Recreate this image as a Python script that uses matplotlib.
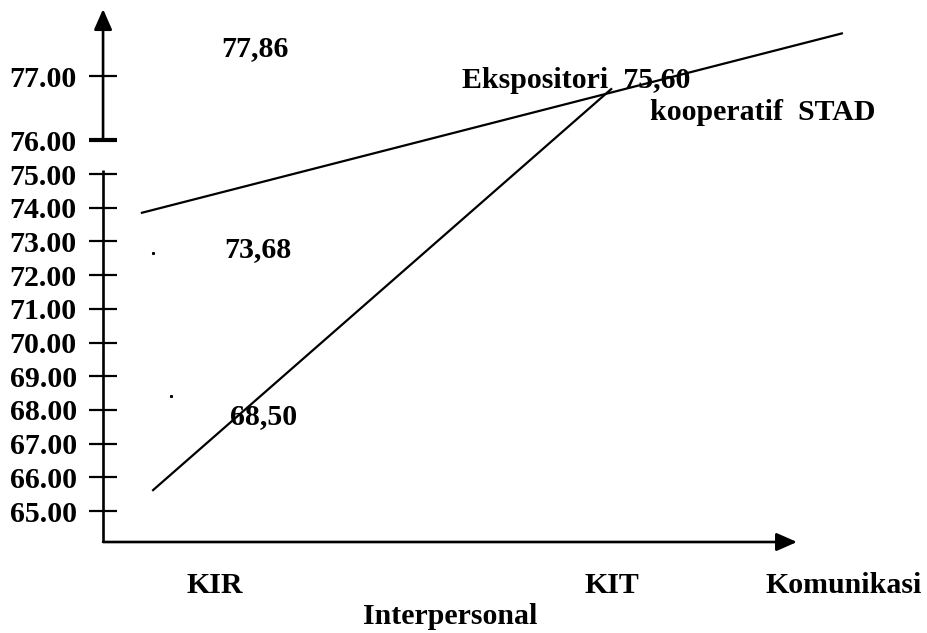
import numpy as np
import matplotlib
matplotlib.use('Agg')
import matplotlib.pyplot as plt

# nilai
kategori = ['KIR', 'KIT']
ticks_y = [65, 66, 67, 68, 69, 70, 71, 72, 73, 74, 75, 76, 77]
tick_labels = ['%.2f' % t for t in ticks_y]

# garis 1 (landai) dan garis 2 (curam), x dalam satuan kategori KIR=0, KIT=1
garis1_x = [-0.184, 1.579]
garis1_y = [73.85, 77.67]
garis2_x = [-0.156, 0.998]
garis2_y = [65.62, 76.80]

label_nilai = ['77,86', '73,68', '68,50', 'Ekspositori  75,60', 'kooperatif  STAD']
label_x = [0.100, 0.107, 0.123, 0.911, 1.380]
label_y = [77.44, 72.77, 67.79, 76.94, 76.43]

titik_x = [-0.157, -0.111]
titik_y = [72.66, 68.41]

# sumbu y patah di 76: 65..76 rapat, 76..77 renggang
H = 633.0
def forward(v):
    v = np.asarray(v, dtype=float)
    py = np.where(v <= 76, 511 - 33.7 * (v - 65), 140.3 - 64.0 * (v - 76))
    return H - py

def inverse(u):
    py = H - np.asarray(u, dtype=float)
    return np.where(py >= 140.3, 65 + (511 - py) / 33.7, 76 + (140.3 - py) / 64.0)

plt.rcParams['font.family'] = ['Liberation Serif', 'DejaVu Serif']
plt.rcParams['font.weight'] = 'bold'
FS = 21.5

fig = plt.figure(figsize=(9.28, 6.33), dpi=100)
ax = fig.add_axes([0, 0, 1, 1])
ax.set_yscale('function', functions=(forward, inverse))
ax.set_xlim(-0.5416, 1.796)
ax.set_ylim(float(inverse(0)), float(inverse(H)))

x0 = -0.282       # posisi sumbu y
y0 = 64.08        # posisi sumbu x
for s in ax.spines.values():
    s.set_visible(False)
ax.spines['left'].set_position(('data', x0))

ax.set_yticks(ticks_y)
ax.set_yticklabels(tick_labels, fontsize=FS, fontweight='bold')
ax.tick_params(axis='y', direction='inout', length=20, width=1.6, pad=9, color='black')
ax.set_xticks([])
ax.yaxis.get_major_ticks()[11].tick1line.set_markeredgewidth(3)

# sumbu
ax.plot([x0, x0], [y0, 75.12], color='black', lw=1.9, solid_capstyle='butt')
ax.annotate('', xy=(x0, 78.05), xytext=(x0, 76.0),
            arrowprops=dict(arrowstyle='-|>,head_length=1.25,head_width=0.55',
                            color='black', lw=1.9, shrinkA=0, shrinkB=0, mutation_scale=10))
ax.annotate('', xy=(1.466, y0), xytext=(x0, y0),
            arrowprops=dict(arrowstyle='-|>,head_length=1.25,head_width=0.55',
                            color='black', lw=1.9, shrinkA=0, shrinkB=0, mutation_scale=10))

ax.plot(garis1_x, garis1_y, color='black', lw=1.6)
ax.plot(garis2_x, garis2_y, color='black', lw=1.6)
ax.plot(titik_x, titik_y, ls='none', marker='s', ms=1.2, color='black')

for t, x, y in zip(label_nilai, label_x, label_y):
    ax.text(x, y, t, fontsize=FS, fontweight='bold', ha='center', va='center')

# label kategori
ax.text(0, 62.80, kategori[0], fontsize=FS, fontweight='bold', ha='center', va='center')
ax.text(1, 62.80, kategori[1], fontsize=FS, fontweight='bold', ha='center', va='center')
ax.text(1.781, 62.80, 'Komunikasi', fontsize=FS, fontweight='bold', ha='right', va='center')
ax.text(0.592, 61.855, 'Interpersonal', fontsize=FS, fontweight='bold', ha='center', va='center')

fig.savefig('out.png', dpi=100)
